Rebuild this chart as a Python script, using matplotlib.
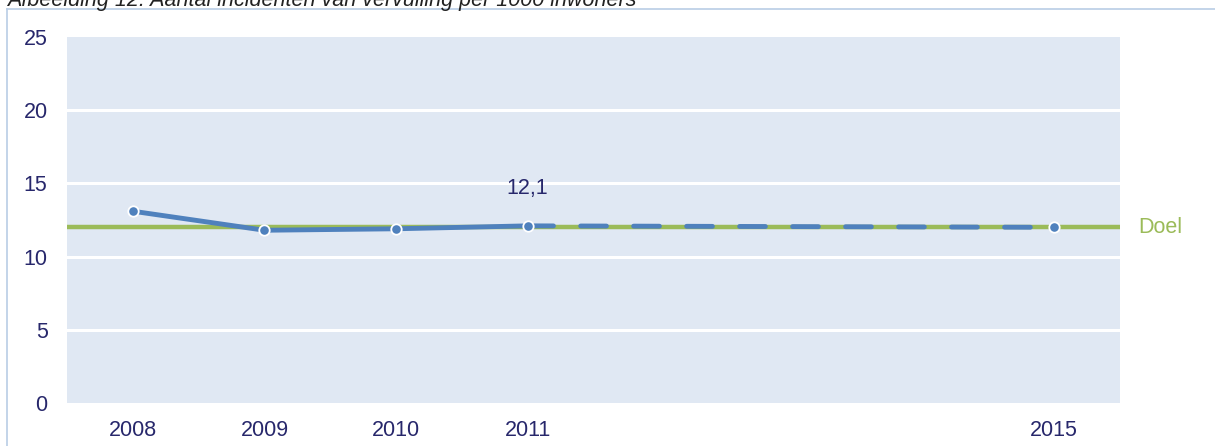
import matplotlib.pyplot as plt
from matplotlib.lines import Line2D

plt.rcParams["font.family"] = ["Liberation Sans", "DejaVu Sans"]

years = [2008, 2009, 2010, 2011, 2012, 2013, 2014, 2015]
tick_labels = ["2008", "2009", "2010", "2011", "", "", "", "2015"]
real_years = [2008, 2009, 2010, 2011]
real_values = [13.1, 11.8, 11.9, 12.1]
proj_years = [2011, 2015]
proj_values = [12.1, 12.0]
goal = 12
title = "Afbeelding 12: Aantal incidenten van vervuiling per 1000 inwoners"

blue = "#4F81BD"
green = "#9BBB59"
navy = "#27276B"

fig = plt.figure(figsize=(12.15, 4.46), dpi=100)
ax = fig.add_axes([67 / 1215, 1 - 403 / 446, (1120 - 67) / 1215, (403 - 37) / 446])
ax.set_facecolor("#E0E8F3")

for y in [5, 10, 15, 20]:
    ax.axhline(y, color="white", lw=2.2, zorder=1)

ax.axhline(goal, color=green, lw=3.2, zorder=2)

ax.plot(proj_years, proj_values, color=blue, lw=3.5, dashes=(5.3, 5.6),
        dash_capstyle="round", zorder=3)
ax.plot(real_years, real_values, color=blue, lw=3.5, solid_capstyle="round", zorder=4)
ax.plot(real_years + [proj_years[-1]], real_values + [proj_values[-1]], "o", color=blue,
        ms=7.5, mec="white", mew=1.3, lw=0, zorder=5)

ax.annotate("12,1", (2011, 12.1), xytext=(0, 19), textcoords="offset points",
            ha="center", va="bottom", fontsize=15.5, color=navy)
ax.annotate("Doel", (1, goal), xycoords=("axes fraction", "data"), xytext=(13, 0),
            textcoords="offset points", ha="left", va="center", fontsize=15.5, color=green,
            annotation_clip=False)

ax.set_xlim(2007.5, 2015.5)
ax.set_ylim(0, 25)
ax.set_yticks([0, 5, 10, 15, 20, 25])
ax.set_xticks(years)
ax.set_xticklabels(tick_labels)
ax.tick_params(length=0, labelsize=15.5, labelcolor=navy)
ax.tick_params(axis="y", pad=14)
ax.tick_params(axis="x", pad=12)
for s in ax.spines.values():
    s.set_visible(False)

# outer frame of the chart
fig.add_artist(Line2D([7 / 1215, 7 / 1215], [0, 1 - 9 / 446], color="#B9CDE5", lw=1.2))
fig.add_artist(Line2D([7 / 1215, 1], [1 - 9 / 446, 1 - 9 / 446], color="#B9CDE5", lw=1.2))

# caption sits partly above the image edge, as in the source
fig.text(7 / 1215, 1 - 6 / 446, title, ha="left", va="baseline", fontsize=15.5,
         style="italic", color="#222222")

fig.savefig("out.png", dpi=100)
